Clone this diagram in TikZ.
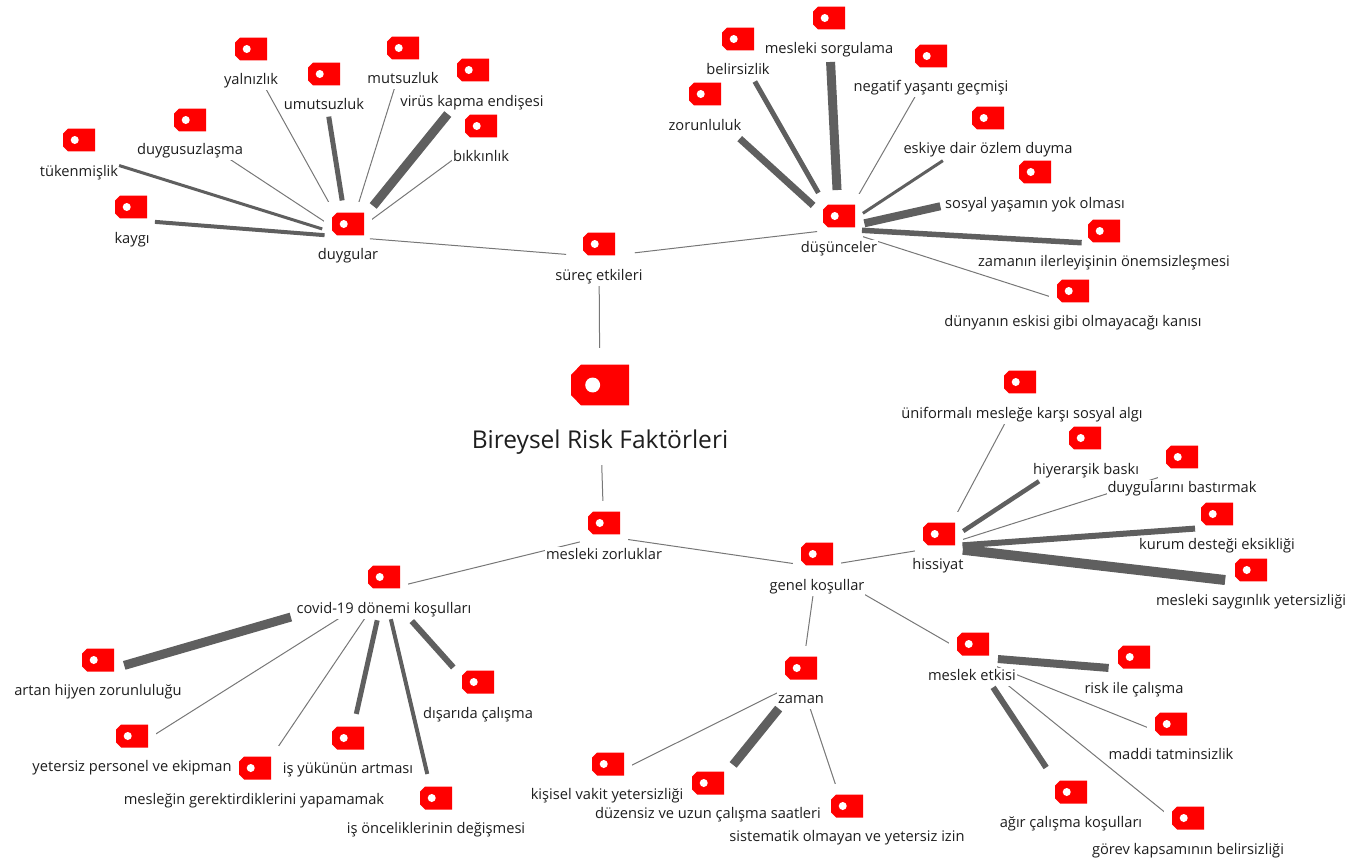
\documentclass[tikz,border=0pt]{standalone}
\usepackage{fontspec}
\setmainfont{Open Sans}
\pgfdeclarelayer{edges}\pgfdeclarelayer{masks}\pgfdeclarelayer{thick}
\pgfsetlayers{edges,masks,thick,main}
\definecolor{txt}{HTML}{1E1E1E}
\definecolor{lnk}{HTML}{5F5F5F}
\definecolor{thinlnk}{HTML}{777777}
\tikzset{
 lbl/.style={inner sep=0.5pt,text=txt,font=\fontsize{11}{13}\selectfont,text height=8.5pt,text depth=3pt},
 biglbl/.style={inner sep=1pt,text=txt,font=\fontsize{18.4}{21}\selectfont,text height=14pt,text depth=3pt},
 tagbox/.style={inner sep=0pt,minimum width=24pt,minimum height=17.25pt},
 bigbox/.style={inner sep=0pt,minimum width=43.5pt,minimum height=30.75pt},
 conn/.style={draw=lnk,line cap=butt},
 thinconn/.style={draw=thinlnk,line width=0.75pt},
}
% id, tag x, tag y, label x, label y, text
\newcommand\tagitem[6]{%
 \node[tagbox] (#1) at (#2,#3) {};
 \fill[red] ([xshift=-12pt,yshift=4.75pt]#1.center) -- ([xshift=-8.2pt,yshift=8.62pt]#1.center) -- ([xshift=12pt,yshift=8.62pt]#1.center) -- ([xshift=12pt,yshift=-8.62pt]#1.center) -- ([xshift=-8.2pt,yshift=-8.62pt]#1.center) -- ([xshift=-12pt,yshift=-4.75pt]#1.center) -- cycle;
 \fill[white] ([xshift=-3.2pt]#1.center) circle[radius=3pt];
 \node[lbl] (#1-l) at (#4,#5+1) {#6};
 \coordinate (#1-c) at (#2,#3+13);
 \begin{pgfonlayer}{masks}
  \fill[white] ([xshift=-6pt,yshift=-11pt]#1.south west) rectangle ([xshift=6pt,yshift=7.5pt]#1.north east);
  \fill[white] (#1-l.south west) rectangle (#1-l.north east);
 \end{pgfonlayer}}
\newcommand\lnk[2]{\begin{pgfonlayer}{edges}\draw[thinconn] (#1-c) -- (#2-c);\end{pgfonlayer}}
% thin connector with explicit gaps (pixels)
\newcommand\lnkS[4]{\begin{pgfonlayer}{thick}\draw[thinconn,shorten <=#3*0.75pt,shorten >=#4*0.75pt] (#1-c) -- (#2-c);\end{pgfonlayer}}
% from, to, width, gap at from, gap at to (all in pixels)
\newcommand\lnkT[5]{\begin{pgfonlayer}{thick}\draw[conn,line width=#3*0.75pt,shorten <=#4*0.75pt,shorten >=#5*0.75pt] (#1-c) -- (#2-c);\end{pgfonlayer}}
\begin{document}
\begin{tikzpicture}[x=0.75pt,y=-0.75pt]
\useasboundingbox (0,0) rectangle (1365,864);
% root
\node[bigbox] (root) at (600,385) {};
\fill[red] ([xshift=-21.75pt,yshift=7.5pt]root.center) -- ([xshift=-14.2pt,yshift=15.37pt]root.center) -- ([xshift=21.75pt,yshift=15.37pt]root.center) -- ([xshift=21.75pt,yshift=-15.37pt]root.center) -- ([xshift=-14.2pt,yshift=-15.37pt]root.center) -- ([xshift=-21.75pt,yshift=-7.5pt]root.center) -- cycle;
\fill[white] ([xshift=-5.5pt]root.center) circle[radius=5.6pt];
\node[biglbl] (root-l) at (600,441) {Bireysel Risk Faktörleri};
\coordinate (root-c) at (600,410);
\begin{pgfonlayer}{masks}
 \fill[white] ([xshift=-6pt,yshift=-8pt]root-l.south west) rectangle ([xshift=6pt,yshift=12pt]root.north east);
\end{pgfonlayer}
\tagitem{surec}{599}{244}{599}{276}{süreç etkileri}
\tagitem{duygular}{348}{224}{348}{255}{duygular}
\tagitem{dusunce}{839}{216}{839}{248}{düşünceler}
\tagitem{tuken}{79}{140}{79}{172}{tükenmişlik}
\tagitem{kaygi}{131}{207}{132}{239}{kaygı}
\tagitem{duygusuz}{190}{120}{190}{150}{duygusuzlaşma}
\tagitem{yalniz}{251}{49}{251}{80}{yalnızlık}
\tagitem{umut}{324}{74}{324}{105}{umutsuzluk}
\tagitem{mutsuz}{403}{48}{403}{79}{mutsuzluk}
\tagitem{virus}{473}{70}{472}{102}{virüs kapma endişesi}
\tagitem{bikkin}{481}{126}{481}{157}{bıkkınlık}
\tagitem{zorun}{705}{94}{705}{126}{zorunluluk}
\tagitem{belir}{738}{39}{738}{70}{belirsizlik}
\tagitem{sorgu}{829}{18}{829}{49}{mesleki sorgulama}
\tagitem{negatif}{931}{56}{931}{87}{negatif yaşantı geçmişi}
\tagitem{eskiye}{988}{118}{988}{149}{eskiye dair özlem duyma}
\tagitem{sosyal}{1035}{172}{1035}{204}{sosyal yaşamın yok olması}
\tagitem{zamanin}{1104}{231}{1104}{262}{zamanın ilerleyişinin önemsizleşmesi}
\tagitem{dunya}{1073}{291}{1073}{322}{dünyanın eskisi gibi olmayacağı kanısı}
\tagitem{mesleki}{604}{523}{604}{555}{mesleki zorluklar}
\tagitem{covid}{384}{577}{384}{609}{covid-19 dönemi koşulları}
\tagitem{genel}{817}{554}{817}{586}{genel koşullar}
\tagitem{hissiyat}{939}{534}{938}{565}{hissiyat}
\tagitem{uni}{1020}{382}{1022}{414}{üniformalı mesleğe karşı sosyal algı}
\tagitem{hiyer}{1085}{438}{1086}{470}{hiyerarşik baskı}
\tagitem{bastir}{1182}{457}{1182}{488}{duygularını bastırmak}
\tagitem{kurum}{1217}{514}{1217}{545}{kurum desteği eksikliği}
\tagitem{saygin}{1251}{570}{1251}{601}{mesleki saygınlık yetersizliği}
\tagitem{etki}{973}{644}{972}{676}{meslek etkisi}
\tagitem{risk}{1134}{657}{1134}{689}{risk ile çalışma}
\tagitem{maddi}{1171}{724}{1171}{755}{maddi tatminsizlik}
\tagitem{gorev}{1188}{818}{1188}{850}{görev kapsamının belirsizliği}
\tagitem{agir}{1071}{792}{1071}{823}{ağır çalışma koşulları}
\tagitem{zaman}{801}{668}{801}{699}{zaman}
\tagitem{kisisel}{608}{764}{607}{795}{kişisel vakit yetersizliği}
\tagitem{duzensiz}{708}{783}{708}{814}{düzensiz ve uzun çalışma saatleri}
\tagitem{sistem}{847}{806}{847}{837}{sistematik olmayan ve yetersiz izin}
\tagitem{hijyen}{98}{660}{98}{691}{artan hijyen zorunluluğu}
\tagitem{personel}{132}{736}{132}{767}{yetersiz personel ve ekipman}
\tagitem{gerek}{255}{768}{254}{800}{mesleğin gerektirdiklerini yapamamak}
\tagitem{yuk}{348}{738}{348}{769}{iş yükünün artması}
\tagitem{oncelik}{436}{798}{436}{829}{iş önceliklerinin değişmesi}
\tagitem{disari}{478}{682}{478}{714}{dışarıda çalışma}
\lnk{surec}{root}\lnkS{surec}{duygular}{33}{22}\lnkS{surec}{dusunce}{36}{22}
\lnkT{duygular}{tuken}{3}{27}{42}\lnkT{duygular}{kaygi}{4}{23.5}{24}\lnk{duygular}{duygusuz}\lnk{duygular}{yalniz}\lnkT{duygular}{umut}{5}{37}{30}\lnk{duygular}{mutsuz}\lnkT{duygular}{virus}{9}{40}{40}\lnk{duygular}{bikkin}
\lnkT{dusunce}{zorun}{7}{35}{47}\lnkT{dusunce}{belir}{5}{41.6}{34}\lnkT{dusunce}{sorgu}{9}{39}{31}\lnk{dusunce}{negatif}\lnkT{dusunce}{eskiye}{3}{28.6}{54}\lnkT{dusunce}{sosyal}{8}{26}{97}\lnkT{dusunce}{zamanin}{5.5}{23}{22.4}\lnk{dusunce}{dunya}
\lnk{root}{mesleki}\lnk{mesleki}{covid}\lnk{mesleki}{genel}
\lnk{genel}{hissiyat}\lnk{genel}{zaman}\lnk{genel}{etki}
\lnk{hissiyat}{uni}\lnkT{hissiyat}{hiyer}{4.5}{29}{55}\lnk{hissiyat}{bastir}\lnkT{hissiyat}{kurum}{6}{23.5}{22}\lnkT{hissiyat}{saygin}{10}{24}{26}
\lnkT{etki}{risk}{8}{25}{25.5}\lnk{etki}{maddi}\lnk{etki}{gorev}\lnkT{etki}{agir}{6}{36.4}{45}
\lnk{zaman}{kisisel}\lnkT{zaman}{duzensiz}{9}{35.5}{40}\lnk{zaman}{sistem}
\lnkT{covid}{hijyen}{9}{97}{27.3}\lnk{covid}{personel}\lnk{covid}{gerek}\lnkT{covid}{yuk}{5}{31}{38}\lnkT{covid}{oncelik}{4}{30}{38}\lnkT{covid}{disari}{6}{41.7}{37}
\end{tikzpicture}
\end{document}
